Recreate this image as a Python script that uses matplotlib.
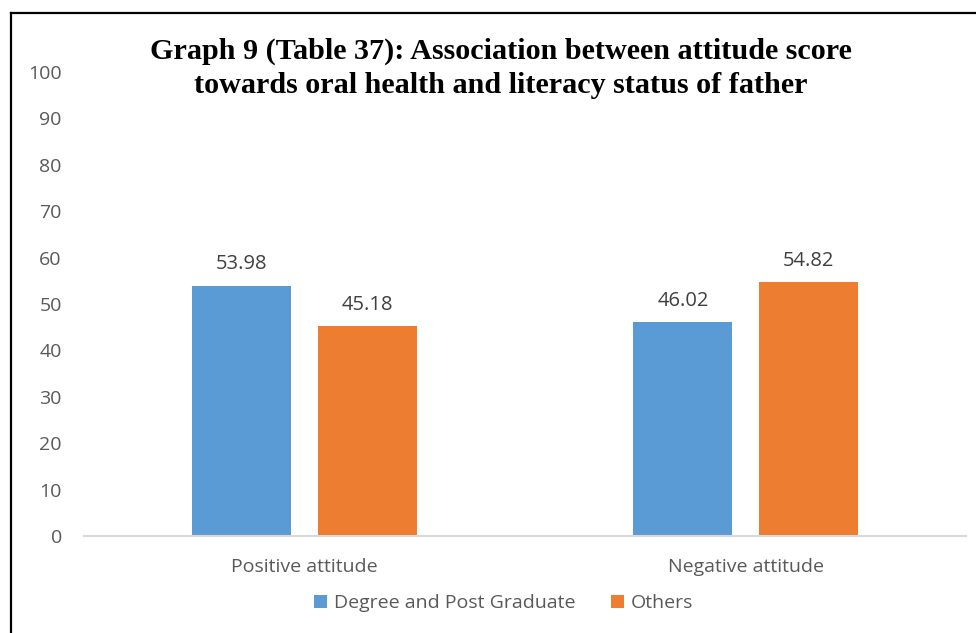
import numpy as np
import matplotlib
matplotlib.use("Agg")
import matplotlib.pyplot as plt
from matplotlib.lines import Line2D

categories = ["Positive attitude", "Negative attitude"]
series_names = ["Degree and Post Graduate", "Others"]
degree_pg = [53.98, 46.02]
others = [45.18, 54.82]
yticks = [0, 10, 20, 30, 40, 50, 60, 70, 80, 90, 100]

blue = "#5B9BD5"
orange = "#ED7D31"
grey_txt = "#595959"

plt.rcParams['font.family'] = ['Open Sans', 'DejaVu Sans']

fig = plt.figure(figsize=(9.76, 6.33), dpi=100)
ax = fig.add_axes([0.0861, 0.1532, 0.9037, 0.7331])

x = np.arange(len(categories))
w = 0.2245
off = 0.142
b1 = ax.bar(x - off, degree_pg, w, color=blue, label=series_names[0])
b2 = ax.bar(x + off, others, w, color=orange, label=series_names[1])

for bars, vals in ((b1, degree_pg), (b2, others)):
    for r, v in zip(bars, vals):
        ax.annotate(f"{v:.2f}", (r.get_x() + r.get_width() / 2, v),
                    xytext=(0, 8), textcoords="offset points",
                    ha="center", va="bottom", fontsize=14.5, color="#404040")

ax.set_xlim(-0.5, 1.5)
ax.set_ylim(0, 100)
ax.set_yticks(yticks)
ax.set_xticks(x)
ax.set_xticklabels(categories)
ax.tick_params(axis="both", length=0, labelsize=14, labelcolor=grey_txt)
ax.tick_params(axis="y", pad=16)
ax.tick_params(axis="x", pad=16)
for s in ("left", "right", "top"):
    ax.spines[s].set_visible(False)
ax.spines["bottom"].set_color("#D9D9D9")
ax.spines["bottom"].set_linewidth(1.5)

fig.legend(handles=[b1, b2], labels=series_names, loc="center",
           bbox_to_anchor=(0.516, 0.047), ncol=2, frameon=False,
           fontsize=14, labelcolor=grey_txt, handlelength=0.7,
           handleheight=0.7, handletextpad=0.35, columnspacing=1.8)

fig.text(0.513, 0.892, "Graph 9 (Table 37): Association between attitude score\n"
         "towards oral health and literacy status of father",
         ha="center", va="center", fontsize=21.7, fontweight="bold",
         family=["Liberation Serif", "DejaVu Serif"], linespacing=1.3,
         color="black")

# frame around the chart
fig.add_artist(Line2D([0.0108, 0.0108], [0, 0.980], color="black", lw=1.6,
                      transform=fig.transFigure))
fig.add_artist(Line2D([0.0108, 1.0], [0.980, 0.980], color="black", lw=1.6,
                      transform=fig.transFigure))

fig.savefig("out.png", dpi=100)
